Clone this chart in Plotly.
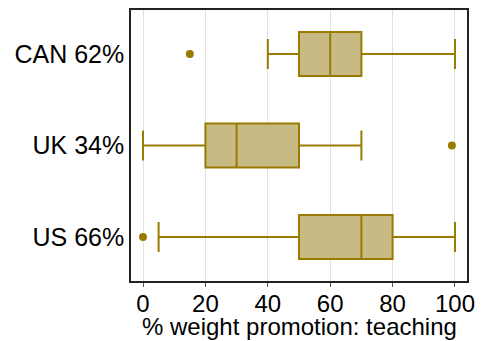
import plotly.graph_objects as go

# Summary statistics per country (bottom to top)
countries = ["US 66%", "UK 34%", "CAN 62%"]
lower_fence = [5, 0, 40]
q1 = [50, 20, 50]
median = [70, 30, 60]
q3 = [80, 50, 70]
upper_fence = [100, 70, 100]

# Individual outliers
outlier_country = ["US 66%", "UK 34%", "CAN 62%"]
outlier_value = [0, 99, 15]

x_title = "% weight promotion: teaching"

line_col = "#9a7b00"
fill_col = "#c7ba82"

fig = go.Figure()
fig.add_trace(go.Box(
    y=countries,
    q1=q1, median=median, q3=q3,
    lowerfence=lower_fence, upperfence=upper_fence,
    orientation="h",
    width=0.48,
    whiskerwidth=0.68,
    fillcolor=fill_col,
    line=dict(color=line_col, width=2),
    boxpoints=False,
    showlegend=False,
))
fig.add_trace(go.Scatter(
    x=outlier_value, y=outlier_country,
    mode="markers",
    marker=dict(color=line_col, size=8),
    showlegend=False,
))

font = "Liberation Sans, Arial, sans-serif"
fig.update_layout(
    width=481, height=341,
    margin=dict(l=131, r=14, t=10, b=60, autoexpand=False),
    paper_bgcolor="white", plot_bgcolor="white",
    font=dict(family=font, color="black", size=22),
    xaxis=dict(
        range=[-3.85, 103.85],
        tickvals=[0, 20, 40, 60, 80, 100],
        showgrid=True, gridcolor="#e2e2e2", gridwidth=1,
        zeroline=False, automargin=False,
        ticks="outside", ticklen=4, tickcolor="#555555",
        tickfont=dict(size=24), ticklabelstandoff=-4,
        showline=True, linecolor="#222222", linewidth=1.5, mirror=True,
    ),
    yaxis=dict(
        type="category",
        categoryorder="array", categoryarray=countries,
        range=[-0.48, 2.48],
        showgrid=False, zeroline=False, automargin=False,
        ticks="", ticklabelstandoff=0,
        tickfont=dict(size=25),
        showline=True, linecolor="#222222", linewidth=1.5, mirror=True,
    ),
    annotations=[dict(
        text=x_title, xref="paper", yref="paper",
        x=0.5, y=-0.223, xanchor="center", yanchor="bottom",
        showarrow=False, font=dict(size=24), borderpad=0,
    )],
)

fig.write_html("out.html")
